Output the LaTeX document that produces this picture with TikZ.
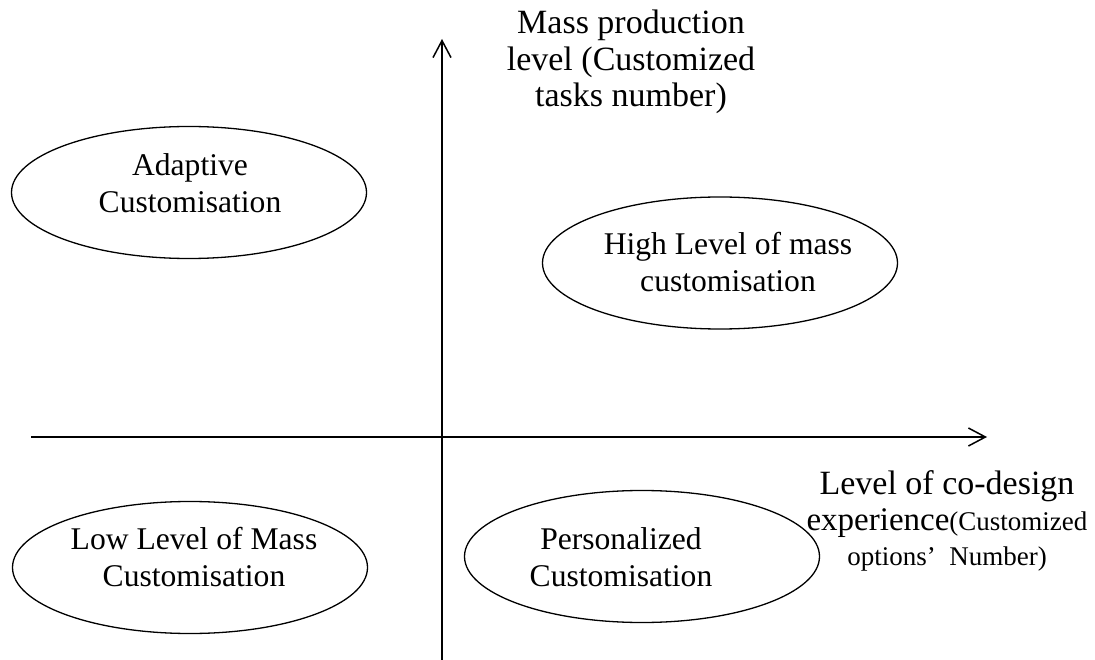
\documentclass[tikz,border=0pt]{standalone}
\usepackage{fontspec}
\setmainfont{Liberation Serif}
\usetikzlibrary{shapes.geometric,arrows.meta}
\begin{document}
\begin{tikzpicture}[x=1pt,y=-1pt,
  oval/.style={draw,ellipse,line width=1.3pt,minimum width=355pt,minimum height=132pt,inner sep=0pt},
  otext/.style={align=center,font=\fontsize{31.6}{37}\selectfont,inner sep=0pt,anchor=base},
  axis/.style={line width=1.5pt,-{Straight Barb[length=17pt,width=18pt,line width=1.5pt]}},
  alabel/.style={align=center,font=\fontsize{34}{36.5}\selectfont,inner sep=0pt,anchor=base}]
\useasboundingbox[fill=white] (0,0) rectangle (1095,660);
\coordinate (xs) at (31,437);
\coordinate (xe) at (987,437);
\coordinate (ys) at (442,660);
\coordinate (ye) at (442,39);
\draw[axis] (xs) -- (xe);
\draw[axis] (ys) -- (ye);
\node[oval] (adapt) at (189,192.5) {};
\node[oval] (high) at (720,263) {};
\node[oval] (low) at (190,567.5) {};
\node[oval] (pers) at (642,556.5) {};
\node[otext] (adaptT) at (190,213) {Adaptive\\Customisation};
\node[otext] (highT) at (728,292) {High Level of mass\\customisation};
\node[otext] (lowT) at (194,586) {Low Level of Mass\\Customisation};
\node[otext] (persT) at (621,586) {Personalized\\Customisation};
\node[alabel] (ylab) at (631,107) {Mass production\\level (Customized\\tasks number)};
\node[alabel] (xlab) at (947,565) {Level of co-design\\{\fontsize{33}{38}\selectfont experience}{\fontsize{27}{35}\selectfont(Customized}\\[-2pt]{\fontsize{27}{35}\selectfont options’\hspace{0.5em}Number)}};
\end{tikzpicture}
\end{document}
